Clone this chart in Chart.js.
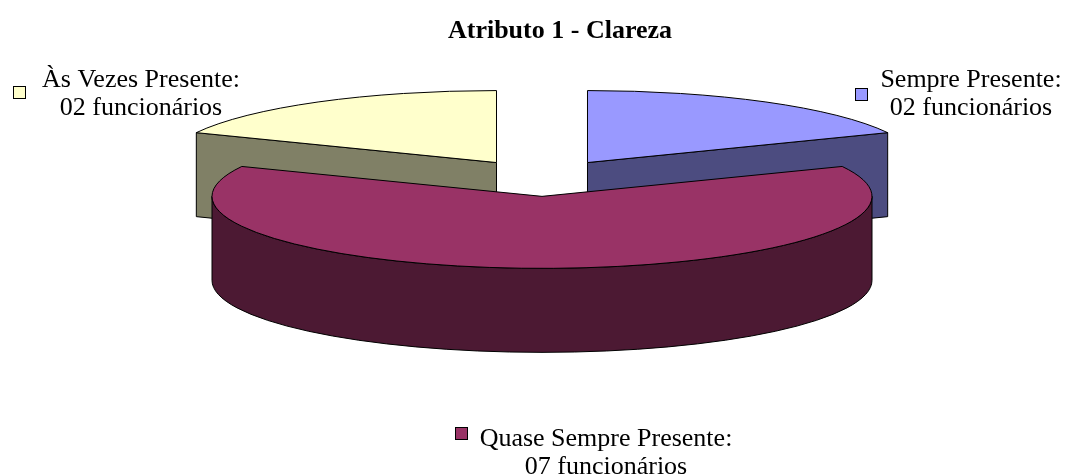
<!DOCTYPE html>
<html>
<head>
<meta charset="utf-8">
<script src="https://cdn.jsdelivr.net/npm/chart.js"></script>
<style>
  body { margin: 0; background: #fff; }
</style>
</head>
<body>
<canvas id="pie3d" width="1069" height="475"></canvas>
<script>
// data
const categories = ['Sempre Presente', 'Quase Sempre Presente', 'Às Vezes Presente'];
const employees = [2, 7, 2];
const countLabels = ['02 funcionários', '07 funcionários', '02 funcionários'];
const topColors = ['#9999FF', '#993366', '#FFFFCC'];
const sideColors = ['#4C4C80', '#4C1933', '#808066'];

// look of the 3D pie and where the labels sit
const PIE = { cx: 542, cy: 178, rx: 330, ry: 72, depth: 84, explode: 0.255 };
const LABEL_POS = [
    { x: 971, y: 87, box: [855, 88] },
    { x: 606, y: 446, box: [455, 427] },
    { x: 141, y: 87, box: [13, 86] }
];
const FONT = '26px "Liberation Serif", "Times New Roman", serif';

function drawSlice(ctx, i, a0, a1) {
    const mid = (a0 + a1) / 2;
    const sx = PIE.cx + PIE.explode * PIE.rx * Math.cos(mid);
    const sy = PIE.cy + PIE.explode * PIE.ry * Math.sin(mid);
    const d = PIE.depth;
    const pt = (a, dy) => [sx + PIE.rx * Math.cos(a), sy + PIE.ry * Math.sin(a) + dy];

    ctx.lineWidth = 1;
    ctx.strokeStyle = '#000';
    ctx.lineJoin = 'round';
    ctx.fillStyle = sideColors[i];

    // radial walls facing the viewer
    [[a0, a0 - Math.PI / 2], [a1, a1 + Math.PI / 2]].forEach(([a, n]) => {
        if (Math.sin(n) <= 0.001) return;
        const p = pt(a, 0);
        ctx.beginPath();
        ctx.moveTo(sx, sy);
        ctx.lineTo(p[0], p[1]);
        ctx.lineTo(p[0], p[1] + d);
        ctx.lineTo(sx, sy + d);
        ctx.closePath();
        ctx.fill();
        ctx.stroke();
    });

    // outer curved wall, front half only
    for (let k = -1; k <= 1; k++) {
        const lo = Math.max(a0, 2 * k * Math.PI);
        const hi = Math.min(a1, 2 * k * Math.PI + Math.PI);
        if (hi <= lo) continue;
        const p = pt(hi, 0);
        ctx.beginPath();
        ctx.ellipse(sx, sy, PIE.rx, PIE.ry, 0, lo, hi, false);
        ctx.lineTo(p[0], p[1] + d);
        ctx.ellipse(sx, sy + d, PIE.rx, PIE.ry, 0, hi, lo, true);
        ctx.closePath();
        ctx.fill();
        ctx.stroke();
    }

    // top face
    ctx.fillStyle = topColors[i];
    ctx.beginPath();
    ctx.moveTo(sx, sy);
    ctx.ellipse(sx, sy, PIE.rx, PIE.ry, 0, a0, a1, false);
    ctx.closePath();
    ctx.fill();
    ctx.stroke();
}

const pie3dPlugin = {
    id: 'pie3d',
    beforeDatasetsDraw(chart) {
        const ctx = chart.ctx;
        const arcs = chart.getDatasetMeta(0).data;
        // back slices first, the big front one last
        const order = arcs.map((a, i) => i).sort((p, q) => {
            const m = i => Math.sin((arcs[i].startAngle + arcs[i].endAngle) / 2);
            return m(p) - m(q);
        });
        ctx.save();
        order.forEach(i => drawSlice(ctx, i, arcs[i].startAngle, arcs[i].endAngle));
        ctx.restore();
        return false;
    },
    afterDraw(chart) {
        const ctx = chart.ctx;
        ctx.save();
        ctx.font = FONT;
        ctx.textAlign = 'center';
        ctx.textBaseline = 'alphabetic';
        categories.forEach((c, i) => {
            const p = LABEL_POS[i];
            ctx.fillStyle = topColors[i];
            ctx.strokeStyle = '#000';
            ctx.lineWidth = 1;
            ctx.fillRect(p.box[0] + 0.5, p.box[1] + 0.5, 12, 12);
            ctx.strokeRect(p.box[0] + 0.5, p.box[1] + 0.5, 12, 12);
            ctx.fillStyle = '#000';
            ctx.fillText(c + ':', p.x, p.y);
            ctx.fillText(countLabels[i], p.x, p.y + 28);
        });
        ctx.restore();
    }
};

new Chart(document.getElementById('pie3d'), {
    type: 'pie',
    data: {
        labels: categories,
        datasets: [{
            data: employees,
            backgroundColor: topColors
        }]
    },
    options: {
        responsive: false,
        animation: false,
        layout: { padding: { left: 51 } },
        plugins: {
            legend: { display: false },
            tooltip: { enabled: false },
            title: {
                display: true,
                text: 'Atributo 1 - Clareza',
                color: '#000',
                font: { family: '"Liberation Serif", "Times New Roman", serif', size: 26, weight: 'bold' },
                padding: { top: 16, bottom: 10 }
            }
        }
    },
    plugins: [pie3dPlugin]
});
</script>
</body>
</html>
